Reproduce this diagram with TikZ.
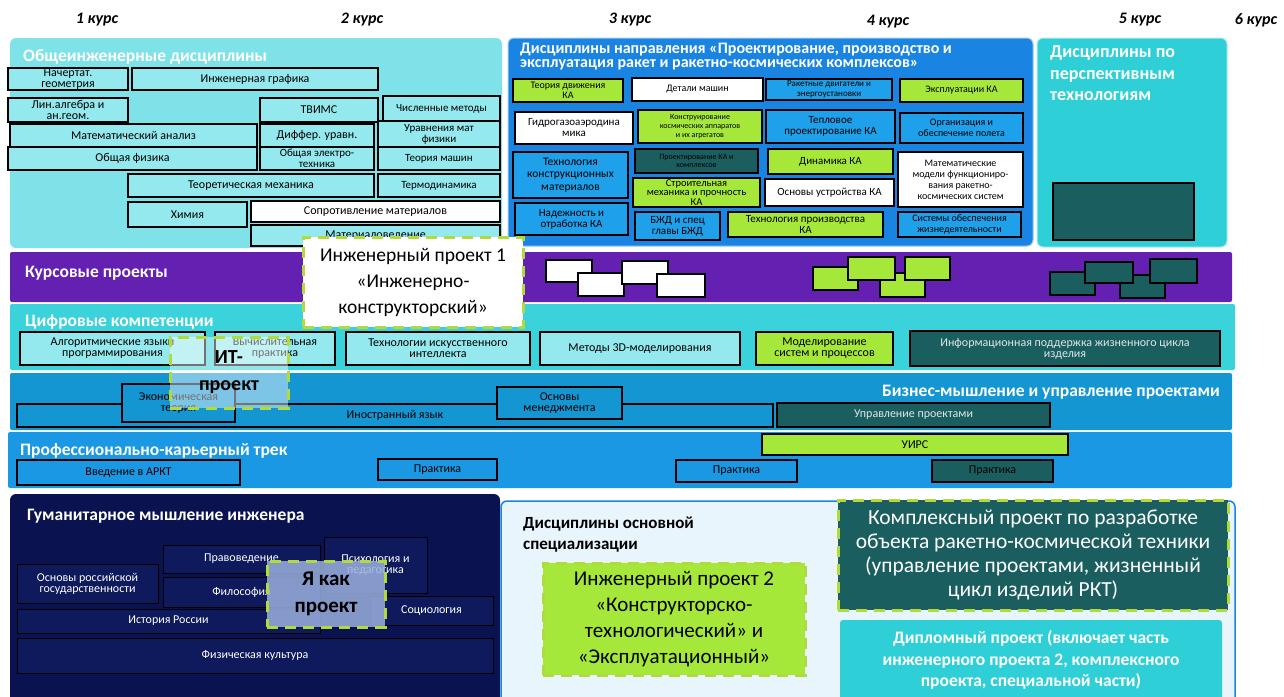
\documentclass[tikz,border=0pt]{standalone}
\usepackage{fontspec}
\setmainfont{Carlito}

\definecolor{cyanlt}{HTML}{7FE2E8}
\definecolor{cyanbox}{HTML}{93E9EE}
\definecolor{blueblk}{HTML}{1A84E2}
\definecolor{bluebox}{HTML}{1FA0EA}
\definecolor{tealblk}{HTML}{2FCFD7}
\definecolor{purpband}{HTML}{6420B0}
\definecolor{digband}{HTML}{3AD2DB}
\definecolor{bizband}{HTML}{1496D2}
\definecolor{carband}{HTML}{1B98E4}
\definecolor{navyblk}{HTML}{0A1250}
\definecolor{navybox}{HTML}{0E1A5C}
\definecolor{greenbox}{HTML}{A6E83A}
\definecolor{tealdark}{HTML}{1B5E60}
\definecolor{paleblk}{HTML}{E8F5FC}
\definecolor{dashgreen}{HTML}{B2DA3A}
\definecolor{yafill}{HTML}{9AB0DE}

\newcommand{\Disc}[7]{\node[#1,minimum width={#5-#3},minimum height={#6-#4}] (#2) at ({(#3+#5)/2},{(#4+#6)/2}) {#7};}

\tikzset{
  blk/.style={rounded corners=6pt, inner sep=0pt},
  band/.style={rounded corners=2pt, inner sep=0pt},
  disc/.style={draw=black, line width=1.3pt, align=center, inner sep=0.5pt, font=\fontsize{12}{11}\selectfont},
  cy/.style={disc, fill=cyanbox},
  bl/.style={disc, fill=bluebox},
  bz/.style={disc, fill=bizband},
  gr/.style={disc, fill=greenbox},
  wh/.style={disc, fill=white},
  dk/.style={disc, fill=tealdark, text=white!85!tealdark},
  nv/.style={disc, draw=black, line width=1pt, fill=navybox, text=white},
  sm/.style={draw=black, line width=1.2pt, inner sep=0pt},
  sml/.style={font=\fontsize{10}{10.5}\selectfont},
  tiny/.style={font=\fontsize{8}{8.6}\selectfont},
  ttl/.style={anchor=west, text=white, inner sep=0pt, font=\bfseries\fontsize{17.5}{19}\selectfont},
  proj/.style={draw=dashgreen, line width=3pt, dash pattern=on 11pt off 7pt, align=center, inner sep=0pt},
  kurs/.style={font=\bfseries\itshape\fontsize{16}{16}\selectfont}
}

\begin{document}
\begin{tikzpicture}[x=1pt,y=-1pt]
\useasboundingbox (0,0) rectangle (1284,696);

% Courses

\node[kurs] (k1) at (97,20) {1 курс};
\node[kurs] (k2) at (362,20) {2 курс};
\node[kurs] (k3) at (630,20) {3 курс};
\node[kurs] (k4) at (888,22) {4 курс};
\node[kurs] (k5) at (1140,20) {5 курс};
\node[kurs] (k6) at (1256,20) {6 курс};

% Row 1

\Disc{blk, fill=cyanlt}{obsh}{10}{38}{502}{248}{}
\node[ttl] (obshT) at (23,57) {Общеинженерные дисциплины};

\Disc{cy}{nach}{8}{68}{128}{90}{Начертат.\\геометрия}
\Disc{cy}{ingr}{132}{68}{378}{90}{Инженерная графика}
\Disc{cy}{lina}{8}{98}{128}{122}{Лин.алгебра и\\ан.геом.}
\Disc{cy}{tvims}{260}{98}{378}{122}{ТВИМС}
\Disc{cy, font=\fontsize{11}{11}\selectfont}{chisl}{383}{96}{500}{122}{Численные методы}
\Disc{cy}{matan}{10}{124}{257}{147}{Математический анализ}
\Disc{cy}{diff}{260}{124}{374}{147}{Диффер. уравн.}
\Disc{cy, font=\fontsize{11}{11}\selectfont}{urmf}{378}{121}{500}{147}{Уравнения мат\\физики}
\Disc{cy}{fiz}{8}{147}{257}{170}{Общая физика}
\Disc{cy, font=\fontsize{11}{10.5}\selectfont}{elek}{260}{147}{374}{170}{Общая электро-\\техника}
\Disc{cy, font=\fontsize{11}{11}\selectfont}{tmash}{378}{147}{500}{170}{Теория машин}
\Disc{cy}{teor}{128}{174}{374}{197}{Теоретическая механика}
\Disc{cy, font=\fontsize{11}{11}\selectfont}{termo}{378}{174}{500}{197}{Термодинамика}
\Disc{cy}{him}{128}{202}{247}{227}{Химия}
\Disc{wh}{sopr}{251}{201}{500}{222}{Сопротивление материалов}
\Disc{cy}{matv}{251}{225}{500}{246}{Материаловедение}

\Disc{blk, fill=blueblk, draw=white!55!blueblk, line width=1pt}{napr}{508}{38}{1033}{246}{}
\node[ttl, align=left, font=\bfseries\fontsize{16}{14}\selectfont] (naprT) at (520,57) {Дисциплины направления «Проектирование, производство и\\эксплуатация ракет и ракетно-космических комплексов»};

\Disc{gr, sml}{tdv}{513}{79}{623}{102}{Теория движения\\КА}
\Disc{wh, sml}{dm}{632}{78}{763}{101}{Детали машин}
\Disc{bl, font=\fontsize{9}{9.5}\selectfont}{rd}{766}{79}{892}{100}{Ракетные двигатели и\\энергоустановки}
\Disc{gr, sml}{eks}{900}{79}{1023}{102}{Эксплуатации КА}
\Disc{wh, font=\fontsize{11}{11}\selectfont}{gga}{515}{112}{633}{144}{Гидрогазоаэродина\\мика}
\Disc{gr, tiny}{konst}{638}{110}{762}{143}{Конструирование\\космических аппаратов\\и их агрегатов}
\Disc{bl, font=\fontsize{11}{11}\selectfont}{tepl}{766}{110}{895}{143}{Тепловое\\проектирование КА}
\Disc{bl, sml}{org}{900}{113}{1023}{143}{Организация и\\обеспечение полета}
\Disc{bl, font=\fontsize{11.5}{12.5}\selectfont}{tkm}{513}{152}{628}{198}{Технология\\конструкционных\\материалов}
\Disc{dk, tiny, text=black}{pka}{635}{149}{758}{173}{Проектирование КА и\\комплексов}
\Disc{gr, font=\fontsize{11}{11}\selectfont}{dyn}{768}{149}{893}{174}{Динамика КА}
\Disc{wh, font=\fontsize{10}{11}\selectfont}{mm}{898}{152}{1023}{207}{Математические\\модели функциониро-\\вания ракетно-\\космических систем}
\Disc{gr, font=\fontsize{10.5}{9.5}\selectfont}{smp}{633}{178}{760}{207}{Строительная\\механика и прочность\\КА}
\Disc{wh, font=\fontsize{11}{11}\selectfont}{osn}{765}{179}{894}{206}{Основы устройства КА}
\Disc{bl, font=\fontsize{11}{11}\selectfont}{nad}{515}{203}{628}{235}{Надежность и\\отработка КА}
\Disc{bl, font=\fontsize{11}{11}\selectfont}{bzd}{635}{212}{720}{240}{БЖД и спец\\главы БЖД}
\Disc{gr, font=\fontsize{11}{10.5}\selectfont}{tpr}{728}{212}{883}{237}{Технология производства\\КА}
\Disc{bl, sml}{sob}{898}{212}{1021}{237}{Системы обеспечения\\жизнедеятельности}

\Disc{blk, fill=tealblk, draw=white!60!tealblk, line width=1pt}{persp}{1037}{38}{1227}{247}{}
\node[ttl, anchor=north west, align=left, font=\bfseries\fontsize{18}{21.5}\selectfont] (perspT) at (1050,46) {Дисциплины по\\перспективным\\технологиям};
\Disc{dk}{perspB}{1053}{183}{1194}{240}{}

% Row 2

\Disc{band, fill=purpband}{kp}{10}{252}{1232}{302}{}
\node[ttl] (kpT) at (25,273) {Курсовые проекты};

\Disc{sm, fill=white}{w1}{546}{260}{592}{282}{}
\Disc{sm, fill=white}{w2}{578}{273}{624}{296}{}
\Disc{sm, fill=white}{w3}{622}{261}{668}{284}{}
\Disc{sm, fill=white}{w4}{657}{274}{705}{297}{}

\Disc{sm, fill=greenbox}{g1}{813}{267}{858}{290}{}
\Disc{sm, fill=greenbox}{g3}{880}{273}{925}{297}{}
\Disc{sm, fill=greenbox}{g2}{848}{257}{895}{280}{}
\Disc{sm, fill=greenbox}{g4}{905}{257}{950}{280}{}

\Disc{sm, fill=tealdark}{t1}{1050}{272}{1095}{295}{}
\Disc{sm, fill=tealdark}{t3}{1120}{275}{1165}{298}{}
\Disc{sm, fill=tealdark}{t2}{1085}{262}{1133}{283}{}
\Disc{sm, fill=tealdark}{t4}{1150}{259}{1197}{283}{}

% Row 3

\Disc{band, fill=digband}{cifr}{10}{304}{1235}{370}{}
\node[ttl] (cifrT) at (25,322) {Цифровые компетенции};

\Disc{cy}{alg}{20}{332}{205}{365}{Алгоритмические языки\\программирования}
\Disc{cy}{vych}{215}{332}{335}{365}{Вычислительная\\практика}
\Disc{cy}{ii}{346}{332}{530}{365}{Технологии искусственного\\интеллекта}
\Disc{cy}{m3d}{540}{332}{740}{365}{Методы 3D-моделирования}
\Disc{gr}{msp}{756}{332}{893}{365}{Моделирование\\систем и процессов}
\Disc{dk}{ipzc}{910}{331}{1220}{366}{Информационная поддержка жизненного цикла\\изделия}

% Row 4

\Disc{band, fill=bizband}{biz}{10}{373}{1232}{430}{}
\node[ttl, anchor=east] (bizT) at (1220,392) {Бизнес-мышление и управление проектами};

\Disc{bz}{inyaz}{17}{404}{773}{427}{Иностранный язык}
\Disc{bz}{ekon}{122}{384}{235}{422}{Экономическая\\теория}
\Disc{bz}{mened}{497}{387}{622}{419}{Основы\\менеджмента}
\Disc{dk}{upr}{777}{403}{1050}{427}{Управление проектами}

% Row 5

\Disc{band, fill=carband}{kar}{8}{432}{1232}{488}{}
\node[ttl] (karT) at (20,451) {Профессионально-карьерный трек};

\Disc{gr}{uirs}{762}{434}{1068}{455}{УИРС}
\Disc{bz, fill=carband}{vved}{17}{460}{240}{485}{Введение в АРКТ}
\Disc{bz, fill=carband}{prak1}{378}{459}{497}{480}{Практика}
\Disc{bz, fill=carband}{prak2}{676}{460}{797}{482}{Практика}
\Disc{dk, text=black}{prak3}{932}{460}{1053}{482}{Практика}

% Row 6

\Disc{blk, fill=navyblk}{gum}{10}{494}{500}{710}{}
\node[ttl] (gumT) at (27,516) {Гуманитарное мышление инженера};

\Disc{nv}{prav}{163}{545}{320}{573}{Правоведение}
\Disc{nv}{psih}{324}{537}{427}{593}{Психология и\\педагогика}
\Disc{nv}{osros}{17}{564}{158}{603}{Основы российской\\государственности}
\Disc{nv}{filos}{163}{577}{320}{607}{Философия}
\Disc{nv}{soc}{370}{596}{493}{625}{Социология}
\Disc{nv}{istr}{17}{609}{320}{633}{История России}
\Disc{nv}{fizk}{17}{638}{493}{673}{Физическая культура}

\Disc{blk, fill=paleblk, draw=blueblk, line width=1.5pt}{spec}{501}{501}{1235}{710}{}
\node[anchor=north west, align=left, inner sep=0pt, font=\bfseries\fontsize{17}{21}\selectfont] (specT) at (523,517) {Дисциплины основной\\специализации};

\Disc{proj, fill=greenbox, font=\fontsize{21}{26}\selectfont}{ip2}{543}{563}{805}{675}{Инженерный проект 2\\«Конструкторско-\\технологический» и\\«Эксплуатационный»}
\Disc{proj, fill=tealdark, text=white, font=\fontsize{21.5}{24}\selectfont}{kompl}{838}{500}{1228}{610}{Комплексный проект по разработке\\объекта ракетно-космической техники\\(управление проектами, жизненный\\цикл изделий РКТ)}
\Disc{blk, fill=tealblk, rounded corners=3pt, align=center, text=white, font=\bfseries\fontsize{17.5}{21.5}\selectfont}{dipl}{840}{620}{1222}{700}{Дипломный проект (включает часть\\инженерного проекта 2, комплексного\\проекта, специальной части)}

% Projects on top

\Disc{proj, fill=white, font=\fontsize{19.5}{26}\selectfont}{ip1}{303}{237}{523}{327}{Инженерный проект 1\\«Инженерно-\\конструкторский»}
\Disc{proj, fill=white, fill opacity=0.45, text opacity=1, font=\bfseries\fontsize{20}{27}\selectfont}{itp}{170}{337}{288}{408}{ИТ-\\проект}
\Disc{proj, fill=yafill, fill opacity=0.85, text opacity=1, font=\bfseries\fontsize{21}{27}\selectfont}{yakak}{267}{561}{385}{627}{Я как\\проект}

\end{tikzpicture}
\end{document}
